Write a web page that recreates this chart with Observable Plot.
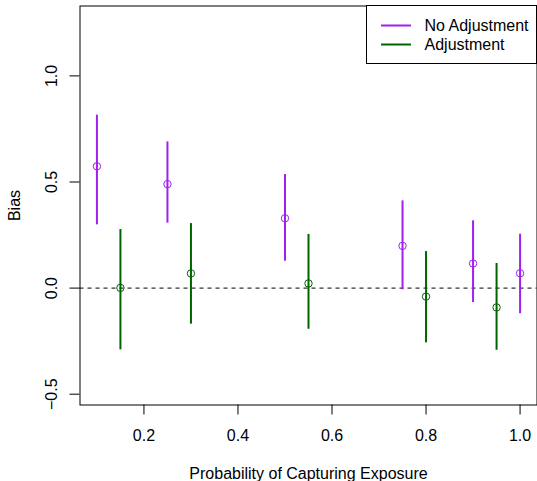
<!DOCTYPE html>
<html>
<head>
<meta charset="utf-8">
<script src="https://cdn.jsdelivr.net/npm/d3@7"></script>
<script src="https://cdn.jsdelivr.net/npm/@observablehq/plot@0.6"></script>
<style>
  html, body { margin: 0; padding: 0; background: #fff; }
  #chart { width: 537px; height: 481px; }
  svg { font-family: "Liberation Sans", Arial, Helvetica, sans-serif; }
</style>
</head>
<body>
<div id="chart"></div>
<script>
// Data
const seriesNames = ["No Adjustment", "Adjustment"];
const seriesColors = ["#A020F0", "#006400"];

const xNoAdj    = [0.10, 0.25, 0.50, 0.75, 0.90, 1.00];
const biasNoAdj = [0.574, 0.490, 0.329, 0.199, 0.116, 0.070];
const lowNoAdj  = [0.298, 0.306, 0.127, -0.008, -0.068, -0.121];
const highNoAdj = [0.815, 0.689, 0.535, 0.411, 0.317, 0.254];

const xAdj    = [0.15, 0.30, 0.55, 0.80, 0.95];
const biasAdj = [0.001, 0.069, 0.022, -0.040, -0.091];
const lowAdj  = [-0.291, -0.170, -0.194, -0.258, -0.293];
const highAdj = [0.276, 0.304, 0.253, 0.172, 0.116];

const xTicks = [0.2, 0.4, 0.6, 0.8, 1.0];
const yTicks = [-0.5, 0.0, 0.5, 1.0];
const xTitle = "Probability of Capturing Exposure";
const yTitle = "Bias";

const rows = [
  ...xNoAdj.map((x, i) => ({series: seriesNames[0], x, bias: biasNoAdj[i], low: lowNoAdj[i], high: highNoAdj[i]})),
  ...xAdj.map((x, i) => ({series: seriesNames[1], x, bias: biasAdj[i], low: lowAdj[i], high: highAdj[i]}))
];

const fmt = d3.format(".1f");
const FS = 16;

const plot = Plot.plot({
  width: 537,
  height: 481,
  marginLeft: 79.5,
  marginRight: 0.5,
  marginTop: 5.5,
  marginBottom: 76.5,
  style: {fontFamily: '"Liberation Sans", Arial, sans-serif', fontSize: FS + "px", background: "#fff"},
  x: {domain: [0.064, 1.036], axis: null},
  y: {domain: [-0.5509, 1.3294], axis: null},
  color: {domain: seriesNames, range: seriesColors},
  marks: [
    Plot.ruleY([0], {stroke: "#000", strokeWidth: 1, strokeDasharray: "4,4"}),
    Plot.ruleX(rows, {x: "x", y1: "low", y2: "high", stroke: "series", strokeWidth: 2}),
    Plot.dot(rows, {x: "x", y: "bias", stroke: "series", fill: "none", r: 3.7, strokeWidth: 1}),
    Plot.frame({stroke: "#000", strokeWidth: 1}),
    // x axis ticks and labels
    Plot.axisX({ticks: xTicks, tickSize: 10, tickFormat: () => "", stroke: "#000", label: null}),
    Plot.text(xTicks, {x: d => d, text: d => fmt(d), frameAnchor: "bottom", dy: 35.5, lineAnchor: "bottom", fontSize: FS, fill: "#000"}),
    // y axis ticks and labels
    Plot.axisY({ticks: yTicks, tickSize: 10, tickFormat: () => "", stroke: "#000", label: null}),
    Plot.text(yTicks, {y: d => d, text: d => fmt(d), frameAnchor: "left", dx: -22.8, rotate: -90, lineAnchor: "bottom", textAnchor: "middle", fontSize: FS, fill: "#000"}),
    // titles
    Plot.text([xTitle], {text: d => d, frameAnchor: "bottom", dy: 73.8, lineAnchor: "bottom", textAnchor: "middle", fontSize: FS, fill: "#000"}),
    Plot.text([yTitle], {text: d => d, frameAnchor: "left", dx: -60.2, rotate: -90, lineAnchor: "bottom", textAnchor: "middle", fontSize: FS, fill: "#000"})
  ]
});

document.getElementById("chart").appendChild(plot);

// Legend (top-right box)
const svg = d3.select(plot);
const lg = svg.append("g").attr("class", "legend").attr("text-anchor", "start");
lg.append("rect")
  .attr("x", 366.5).attr("y", 5.5).attr("width", 170).attr("height", 58)
  .attr("fill", "#fff").attr("stroke", "#000").attr("stroke-width", 1);
seriesNames.forEach((name, i) => {
  const cy = 25.5 + i * 19;
  lg.append("line")
    .attr("x1", 381).attr("x2", 411).attr("y1", cy).attr("y2", cy)
    .attr("stroke", seriesColors[i]).attr("stroke-width", 2);
  lg.append("text")
    .attr("x", 424.5).attr("y", cy + 5.8)
    .attr("text-anchor", "start")
    .attr("font-size", FS).attr("fill", "#000")
    .text(name);
});
</script>
</body>
</html>
